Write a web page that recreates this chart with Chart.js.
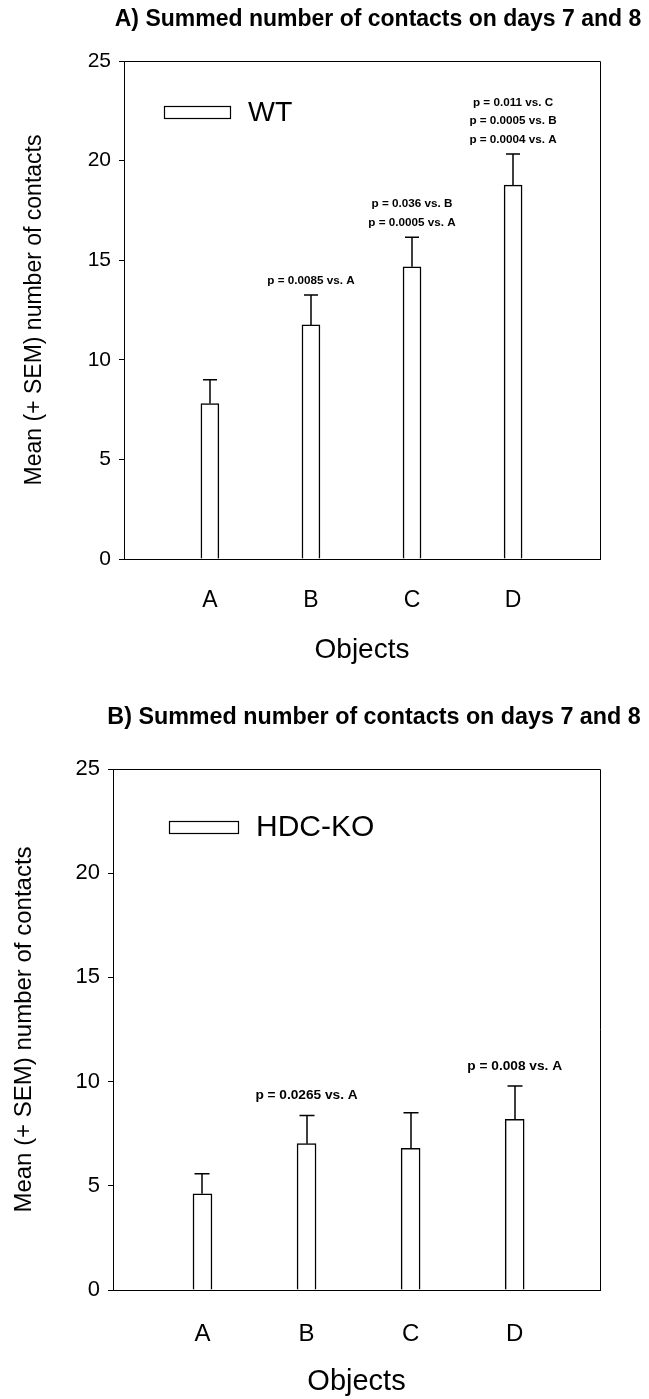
<!DOCTYPE html>
<html>
<head>
<meta charset="utf-8">
<script src="https://cdn.jsdelivr.net/npm/chart.js@4.4.1/dist/chart.umd.min.js"></script>
<style>
  html, body { margin: 0; padding: 0; background: #fff; }
  .panel { position: absolute; left: 0; }
  #top { top: 0; }
  #bottom { top: 690px; }
</style>
</head>
<body>
<div class="panel" id="top"><canvas id="chartA" width="649" height="690"></canvas></div>
<div class="panel" id="bottom"><canvas id="chartB" width="649" height="709"></canvas></div>
<script>
const objects = ['A', 'B', 'C', 'D'];
const yTicks = [0, 5, 10, 15, 20, 25];

// panel A - WT
const wtMeans = [7.8, 11.75, 14.67, 18.77];
const wtSem = [1.2, 1.5, 1.48, 1.56];
const wtStats = [[], ['p = 0.0085 vs. A'], ['p = 0.036 vs. B', 'p = 0.0005 vs. A'],
  ['p = 0.011 vs. C', 'p = 0.0005 vs. B', 'p = 0.0004 vs. A']];

// panel B - HDC-KO
const koMeans = [4.62, 7.02, 6.8, 8.19];
const koSem = [0.96, 1.35, 1.7, 1.6];
const koStats = [[], ['p = 0.0265 vs. A'], [], ['p = 0.008 vs. A']];

const FONT = "'Liberation Sans', Arial, Helvetica, sans-serif";
Chart.defaults.color = '#000';
Chart.defaults.font.family = FONT;

// error bars, p-values, frame, legend and title drawn on top of the bars
const makeExtras = (s) => ({
  id: 'extras',
  afterDatasetsDraw(chart) {
    const ctx = chart.ctx;
    const area = chart.chartArea;
    const y = chart.scales.y;
    const meta = chart.getDatasetMeta(0);
    ctx.save();
    ctx.strokeStyle = '#000';
    ctx.fillStyle = '#000';

    // top and right side of the box
    ctx.lineWidth = 1;
    ctx.beginPath();
    ctx.moveTo(area.left, Math.round(area.top) + 0.5);
    ctx.lineTo(Math.round(area.right) + 0.5, Math.round(area.top) + 0.5);
    ctx.lineTo(Math.round(area.right) + 0.5, area.bottom);
    ctx.stroke();

    ctx.lineWidth = 1.5;
    meta.data.forEach((bar, i) => {
      const yCap = y.getPixelForValue(s.means[i] + s.sem[i]);
      const x = Math.round(bar.x);
      ctx.beginPath();
      ctx.moveTo(x, bar.y);
      ctx.lineTo(x, yCap);
      ctx.moveTo(x - s.cap / 2, yCap);
      ctx.lineTo(x + s.cap / 2, yCap);
      ctx.stroke();

      const lines = s.stats[i];
      ctx.font = 'bold ' + s.statSize + 'px ' + FONT;
      ctx.textAlign = 'center';
      ctx.textBaseline = 'middle';
      lines.forEach((t, j) => {
        ctx.fillText(t, bar.x, yCap - s.statGap - (lines.length - 1 - j) * s.statLine);
      });
    });

    // legend inside plot
    ctx.lineWidth = 1.2;
    ctx.fillStyle = '#fff';
    const lx = area.left + s.legend.dx, ly = area.top + s.legend.dy;
    ctx.fillRect(lx, ly, s.legend.w, 12);
    ctx.strokeRect(lx + 0.5, ly + 0.5, s.legend.w, 12);
    ctx.fillStyle = '#000';
    ctx.font = s.legend.size + 'px ' + FONT;
    ctx.textAlign = 'left';
    ctx.textBaseline = 'middle';
    ctx.fillText(chart.data.datasets[0].label, lx + s.legend.w + s.legend.gap, ly + 7);

    // panel title
    ctx.font = 'bold ' + s.titleSize + 'px ' + FONT;
    ctx.textAlign = 'center';
    ctx.fillText(s.title, s.titleX, s.titleY);
    ctx.restore();
  }
});

function makeChart(id, label, means, s) {
  return new Chart(document.getElementById(id), {
    type: 'bar',
    data: {
      datasets: [{
        label: label,
        data: objects.map((c, i) => ({ x: i + 1, y: means[i] })),
        backgroundColor: '#fff',
        borderColor: '#000',
        borderWidth: 1.5,
        barThickness: s.barW
      }]
    },
    options: {
      responsive: false,
      animation: false,
      devicePixelRatio: 1,
      events: [],
      layout: { padding: { top: s.plotTop, right: 49, left: 0, bottom: 0 } },
      plugins: { legend: { display: false }, tooltip: { enabled: false } },
      scales: {
        x: {
          type: 'linear', min: s.xMin, max: s.xMax, offset: false,
          afterBuildTicks: sc => { sc.ticks = objects.map((c, i) => ({ value: i + 1 })); },
          ticks: { callback: v => objects[v - 1], font: { size: s.xTickSize }, padding: s.xTickPad, maxRotation: 0, autoSkip: false },
          grid: { display: false, drawTicks: false, offset: false },
          border: { display: true, color: '#000', width: 1 },
          title: { display: true, text: 'Objects', font: { size: s.xTitleSize }, padding: { top: 0, bottom: s.xTitlePad } },
          afterFit: sc => { sc.height = s.xHeight; }
        },
        y: {
          min: 0, max: 25,
          afterBuildTicks: sc => { sc.ticks = yTicks.map(v => ({ value: v })); },
          ticks: { font: { size: s.yTickSize }, padding: 8 },
          grid: { drawOnChartArea: false, drawTicks: true, tickLength: 5, color: '#000' },
          border: { color: '#000', width: 1 },
          title: { display: true, text: 'Mean (+ SEM) number of contacts', font: { size: s.yTitleSize }, padding: { top: s.yTitlePad, bottom: 0 } },
          afterFit: sc => { sc.width = s.yWidth; }
        }
      }
    },
    plugins: [makeExtras(s)]
  });
}

makeChart('chartA', 'WT', wtMeans, {
  means: wtMeans, sem: wtSem, stats: wtStats,
  xMin: 0.15, xMax: 4.86,
  plotTop: 61, yWidth: 124, xHeight: 131, barW: 18, cap: 14,
  statSize: 11.7, statGap: 14.5, statLine: 18.6,
  xTickSize: 23, xTickPad: 28, xTitleSize: 28, xTitlePad: 23,
  yTickSize: 21, yTitleSize: 23, yTitlePad: 21,
  legend: { dx: 40, dy: 45, w: 66, gap: 18, size: 28.5 },
  title: 'A) Summed number of contacts on days 7 and 8', titleSize: 23, titleX: 378, titleY: 20
});

makeChart('chartB', 'HDC-KO', koMeans, {
  means: koMeans, sem: koSem, stats: koStats,
  xMin: 0.14, xMax: 4.82,
  plotTop: 79, yWidth: 113, xHeight: 109, barW: 19, cap: 15,
  statSize: 13.7, statGap: 20, statLine: 19,
  xTickSize: 24, xTickPad: 30, xTitleSize: 29, xTitlePad: 0,
  yTickSize: 22, yTitleSize: 24, yTitlePad: 10,
  legend: { dx: 56, dy: 52, w: 69, gap: 18, size: 30 },
  title: 'B) Summed number of contacts on days 7 and 8', titleSize: 23.3, titleX: 374, titleY: 28
});
</script>
</body>
</html>
